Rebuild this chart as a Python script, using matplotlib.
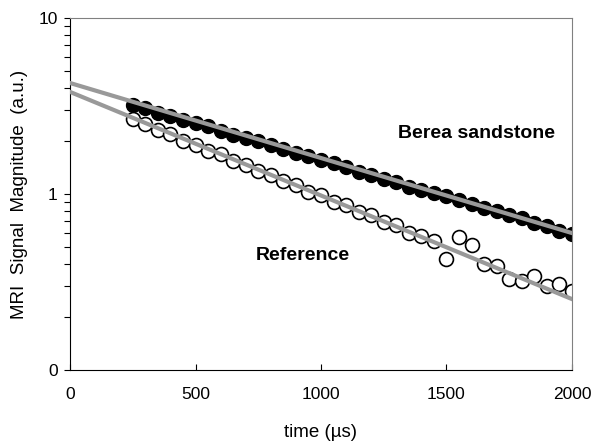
import matplotlib
matplotlib.use("Agg")
import matplotlib.pyplot as plt
from matplotlib.ticker import FixedLocator, LogLocator, NullFormatter

plt.rcParams['font.family'] = ['Liberation Sans', 'DejaVu Sans']

# echo times (us)
t = list(range(250, 2001, 50))

berea = [3.20, 3.06, 2.90, 2.79, 2.64, 2.53, 2.42, 2.29, 2.17, 2.09,
         1.99, 1.89, 1.80, 1.72, 1.64, 1.55, 1.49, 1.42, 1.34, 1.29,
         1.21, 1.17, 1.10, 1.06, 1.01, 0.97, 0.92, 0.88, 0.83, 0.80,
         0.76, 0.73, 0.68, 0.66, 0.62, 0.59]

reference = [2.65, 2.50, 2.30, 2.18, 2.01, 1.91, 1.76, 1.68, 1.54, 1.47,
             1.35, 1.29, 1.18, 1.13, 1.03, 0.99, 0.90, 0.87, 0.79, 0.76,
             0.69, 0.67, 0.60, 0.58, 0.54, 0.43, 0.57, 0.51, 0.40, 0.39,
             0.33, 0.32, 0.34, 0.30, 0.31, 0.28]

# exponential fits, end points (straight lines on log axis)
fit_t = [0, 2000]
berea_fit = [4.27, 0.60]
reference_fit = [3.80, 0.253]

fig = plt.figure(figsize=(6, 4.48), dpi=100)
ax = fig.add_axes([0.1167, 0.174, 0.8366, 0.786])

ax.plot(t, berea, 'o', color='black', markersize=10, markeredgecolor='black', zorder=2)
ax.plot(t, reference, 'o', markerfacecolor='white', markeredgecolor='black',
        markersize=10, markeredgewidth=1.2, zorder=2)
ax.plot(fit_t, berea_fit, color='#999999', linewidth=3, zorder=3)
ax.plot(fit_t, reference_fit, color='#999999', linewidth=3, zorder=3)

ax.set_yscale('log')
ax.set_xlim(0, 2000)
ax.set_ylim(0.1, 10)

ax.yaxis.set_major_locator(FixedLocator([0.1, 1, 10]))
ax.set_yticklabels(['0', '1', '10'])
ax.yaxis.set_minor_locator(LogLocator(base=10, subs=range(2, 10)))
ax.yaxis.set_minor_formatter(NullFormatter())
ax.set_xticks([0, 500, 1000, 1500, 2000])

ax.tick_params(axis='y', which='both', direction='out', length=4, width=0.8,
               labelsize=12.5, pad=5)
ax.tick_params(axis='x', direction='in', length=4, width=0.8, labelsize=12.5, pad=12)

for side in ['top', 'right']:
    ax.spines[side].set_color('#808080')
    ax.spines[side].set_linewidth(0.8)
for side in ['left', 'bottom']:
    ax.spines[side].set_linewidth(0.8)

ax.text(1621, 2.2, 'Berea sandstone', fontsize=14, fontweight='bold',
        ha='center', va='center')
ax.text(928, 0.45, 'Reference', fontsize=14, fontweight='bold',
        ha='center', va='center')

ax.set_xlabel('time (\u00b5s)', fontsize=13.5, labelpad=16)
ax.set_ylabel('MRI  Signal  Magnitude  (a.u.)', fontsize=13.5, labelpad=7)

plt.savefig('out.png', dpi=100)
